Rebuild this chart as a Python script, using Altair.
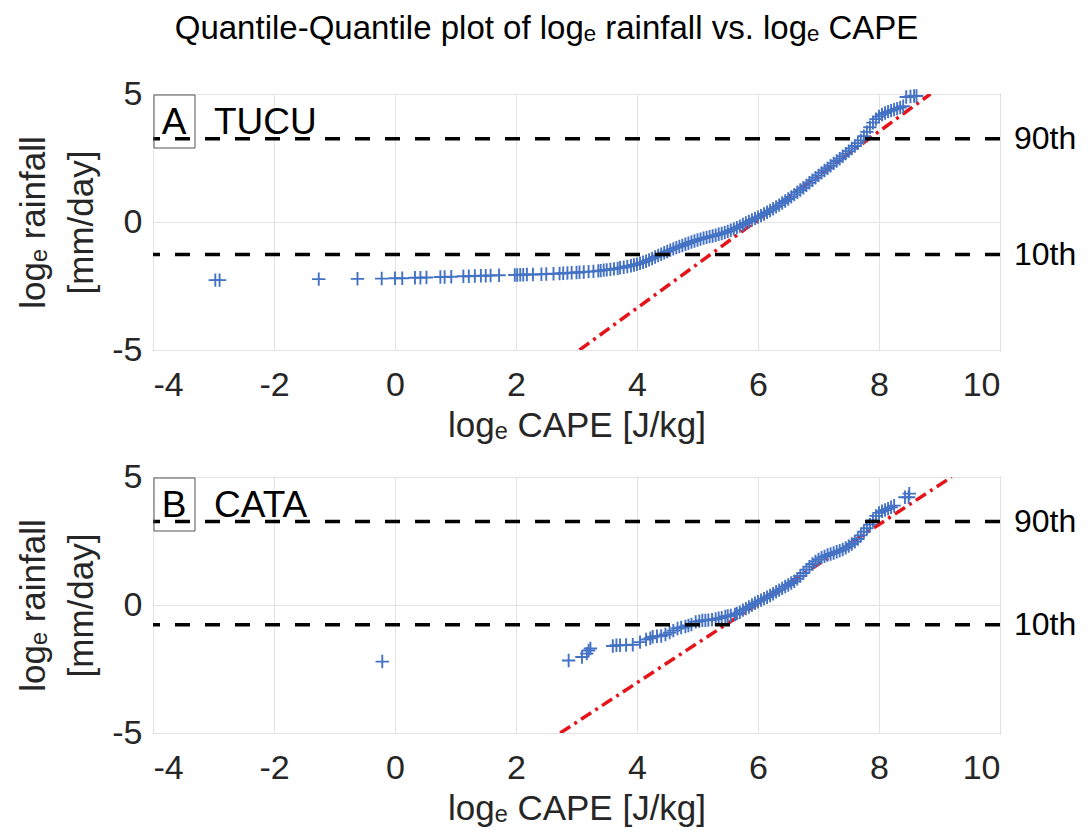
import pandas as pd
import altair as alt

# Quantile pairs (log_e CAPE vs log_e rainfall)
tucu_x = [-2.97, -2.90, -1.26, -0.62, -0.22, 0.0, 0.12, 0.33, 0.42, 0.52, 0.75, 0.82, 0.93,
          1.13, 1.22, 1.32, 1.42, 1.50, 1.58, 1.72, 1.98, 2.02, 2.07, 2.12, 2.18, 2.28, 2.42,
          2.50, 2.62, 2.72, 2.78, 2.85, 2.92, 3.00, 3.05, 3.12, 3.20, 3.28, 3.36, 3.40, 3.45,
          3.50, 3.56, 3.62, 3.68, 3.72, 3.78, 3.84, 3.90, 3.95, 4.00,
          4.05, 4.10, 4.15, 4.20, 4.25, 4.30, 4.35, 4.40, 4.45, 4.50, 4.55, 4.60, 4.65, 4.70,
          4.75, 4.80, 4.85, 4.90, 4.95, 5.00, 5.05, 5.10, 5.15, 5.20, 5.25, 5.30, 5.35, 5.40,
          5.45, 5.50, 5.55, 5.60, 5.65, 5.70, 5.75, 5.80, 5.85, 5.90, 5.95, 6.00, 6.05, 6.10,
          6.15, 6.20, 6.25, 6.30, 6.35, 6.40, 6.45, 6.50, 6.55, 6.60, 6.65, 6.70, 6.75, 6.80,
          6.85, 6.90, 6.95, 7.00, 7.05, 7.10, 7.15, 7.20, 7.25, 7.30, 7.35, 7.40, 7.45, 7.50,
          7.55, 7.60, 7.65, 7.70, 7.75, 7.80, 7.85, 7.90, 7.95, 8.00, 8.05, 8.10, 8.15, 8.20,
          8.25, 8.30, 8.35, 8.40, 8.45, 8.52, 8.58, 8.62]
tucu_y = [-2.27, -2.27, -2.23, -2.22, -2.21, -2.20, -2.20, -2.18, -2.18, -2.17, -2.15, -2.15, -2.14,
          -2.12, -2.12, -2.11, -2.10, -2.10, -2.09, -2.08, -2.07, -2.07, -2.06, -2.06, -2.05, -2.05, -2.04,
          -2.03, -2.02, -2.01, -2.00, -1.99, -1.98, -1.97, -1.96, -1.95, -1.94, -1.93, -1.91, -1.90, -1.88,
          -1.87, -1.85, -1.83, -1.81, -1.79, -1.77, -1.74, -1.71, -1.68, -1.65,
          -1.61, -1.57, -1.53, -1.48, -1.43, -1.37, -1.31, -1.26, -1.20, -1.15, -1.10, -1.05, -1.00, -0.96,
          -0.92, -0.87, -0.83, -0.78, -0.74, -0.70, -0.67, -0.63, -0.60, -0.57, -0.55, -0.52, -0.48, -0.45,
          -0.41, -0.37, -0.32, -0.27, -0.22, -0.16, -0.10, -0.04, 0.02, 0.08, 0.14, 0.19, 0.25, 0.31,
          0.38, 0.45, 0.52, 0.59, 0.66, 0.74, 0.82, 0.90, 0.98, 1.07, 1.16, 1.25, 1.34, 1.43,
          1.53, 1.63, 1.73, 1.82, 1.92, 2.01, 2.10, 2.20, 2.29, 2.38, 2.47, 2.57, 2.67, 2.77,
          2.87, 2.97, 3.08, 3.19, 3.35, 3.52, 3.70, 3.88, 4.02, 4.12, 4.20, 4.26, 4.31, 4.35,
          4.39, 4.43, 4.47, 4.52, 4.88, 4.90, 4.92, 4.92]

cata_x = [-0.21, 2.87, 3.09, 3.17, 3.20, 3.23, 3.60, 3.66, 3.72, 3.82, 3.93, 4.05, 4.15, 4.22,
          4.26, 4.33, 4.40, 4.47, 4.54, 4.60, 4.67, 4.73, 4.80, 4.85, 4.90, 4.97, 5.03, 5.08,
          5.13, 5.18, 5.24, 5.30, 5.35, 5.40, 5.46, 5.50, 5.55, 5.62,
          5.65, 5.70, 5.75, 5.80, 5.85, 5.90, 5.95, 6.00, 6.05, 6.10, 6.15, 6.20, 6.25, 6.30,
          6.35, 6.40, 6.45, 6.50, 6.55, 6.60, 6.65, 6.70, 6.75, 6.80, 6.85, 6.90, 6.95, 7.00,
          7.05, 7.10, 7.15, 7.20, 7.25, 7.30, 7.35, 7.40, 7.45, 7.50, 7.55, 7.60, 7.65, 7.70,
          7.75, 7.80, 7.85, 7.90, 7.95, 8.00, 8.05, 8.10, 8.15, 8.20, 8.25, 8.43, 8.49, 8.50]
cata_y = [-2.21, -2.17, -2.03, -1.90, -1.78, -1.70, -1.60, -1.57, -1.57, -1.56, -1.55, -1.45, -1.35, -1.30,
          -1.24, -1.22, -1.21, -1.15, -1.08, -1.00, -0.92, -0.88, -0.84, -0.80, -0.76, -0.66, -0.63, -0.60,
          -0.60, -0.59, -0.57, -0.55, -0.52, -0.50, -0.45, -0.43, -0.41, -0.37,
          -0.33, -0.28, -0.20, -0.14, -0.08, 0.00, 0.07, 0.13, 0.19, 0.25, 0.30, 0.37, 0.44, 0.52,
          0.58, 0.65, 0.72, 0.78, 0.86, 0.93, 1.02, 1.13, 1.25, 1.38, 1.50, 1.60, 1.70, 1.78,
          1.85, 1.90, 1.95, 1.99, 2.03, 2.08, 2.12, 2.17, 2.23, 2.30, 2.38, 2.47, 2.58, 2.72,
          2.86, 3.00, 3.14, 3.30, 3.48, 3.60, 3.66, 3.71, 3.76, 3.82, 3.88, 4.21, 4.21, 4.35]

pct_labels = ["90th", "10th"]
tucu_pct = [3.25, -1.27]
cata_pct = [3.26, -0.77]

# end points of the red reference lines
tucu_fit_x = [3.05, 8.85]
tucu_fit_y = [-5, 5]
cata_fit_x = [2.73, 9.2]
cata_fit_y = [-5, 5]

W, H = 847, 256
FONT = "Liberation Sans"
BLUE = "#4472c4"
PLUS = "M-1,0L1,0M0,-1L0,1"
HYPHEN = "replace(datum.label, '\u2212', '-')"


def panel(xs, ys, pct, fit_x, fit_y, letter, name):
    pts = pd.DataFrame({"cape": xs, "rain": ys})
    q = pd.DataFrame({"v": pct, "lab": pct_labels})
    fit = pd.DataFrame({"cape": fit_x, "rain": fit_y})
    one = pd.DataFrame({"a": [0]})

    xenc = alt.X("cape:Q", scale=alt.Scale(domain=[-4, 10], nice=False),
                 axis=alt.Axis(title="logₑ CAPE [J/kg]", values=list(range(-4, 11, 2)),
                               format="d", labelExpr=HYPHEN, labelPadding=18, titlePadding=6))
    yenc = alt.Y("rain:Q", scale=alt.Scale(domain=[-5, 5], nice=False),
                 axis=alt.Axis(title=["logₑ rainfall", "[mm/day]"], values=[-5, 0, 5],
                               format="d", labelExpr=HYPHEN, labelPadding=11,
                               titlePadding=12, titleLineHeight=48))

    red = alt.Chart(fit).mark_line(color="#e5141b", strokeWidth=3.5,
                                   strokeDash=[12, 5, 3, 5], clip=True).encode(x=xenc, y=yenc)
    dots = alt.Chart(pts).mark_point(shape=PLUS, size=180, filled=False, strokeWidth=1.9,
                                     color=BLUE, opacity=1).encode(x="cape:Q", y="rain:Q")
    rules = alt.Chart(q).mark_rule(color="black", strokeWidth=3.5,
                                   strokeDash=[15, 15]).encode(y="v:Q")
    labs = alt.Chart(q).mark_text(align="left", baseline="middle", font=FONT, fontSize=32,
                                  color="black").encode(x=alt.value(W + 14), y="v:Q", text="lab:N")
    box = alt.Chart(one).mark_rect(filled=False, stroke="#555555", strokeWidth=1).encode(
        x=alt.value(1), x2=alt.value(42), y=alt.value(1), y2=alt.value(54))
    let = alt.Chart(one).mark_text(align="center", baseline="alphabetic", font=FONT,
                                   fontSize=37, color="black").encode(
        x=alt.value(21), y=alt.value(40), text=alt.value(letter))
    nm = alt.Chart(one).mark_text(align="left", baseline="alphabetic", font=FONT,
                                  fontSize=37, color="black").encode(
        x=alt.value(61), y=alt.value(40), text=alt.value(name))

    return alt.layer(red, dots, rules, labs, box, let, nm).properties(width=W, height=H)


top = panel(tucu_x, tucu_y, tucu_pct, tucu_fit_x, tucu_fit_y, "A", "TUCU")
bottom = panel(cata_x, cata_y, cata_pct, cata_fit_x, cata_fit_y, "B", "CATA")

chart = alt.vconcat(top, bottom, spacing=15).properties(
    title=alt.TitleParams("Quantile-Quantile plot of logₑ rainfall vs. logₑ CAPE",
                          font=FONT, fontSize=33, fontWeight="normal", anchor="middle",
                          color="black", offset=31),
    padding={"left": 8, "top": 4, "right": 0, "bottom": 0}
).configure_view(
    stroke="#4d4d4d", strokeWidth=1
).configure_axis(
    gridColor="#e3e3e3", domain=False, ticks=False,
    labelFont=FONT, titleFont=FONT, labelFontSize=34, titleFontSize=35,
    labelColor="#262626", titleColor="#262626", titleFontWeight="normal"
)

chart.save("out.html", embed_options={"renderer": "svg", "actions": False})
